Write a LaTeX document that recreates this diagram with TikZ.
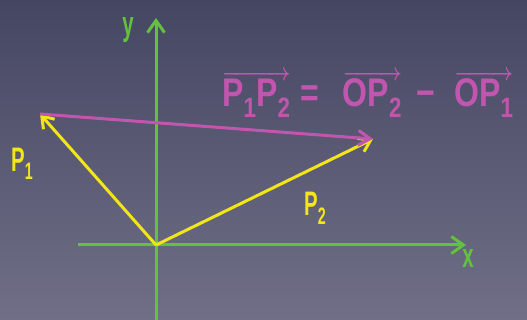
\documentclass[tikz,border=0pt]{standalone}
\usepackage{fontspec}
\setmainfont{Liberation Sans}
\usetikzlibrary{arrows.meta}
\definecolor{bgtop}{HTML}{454662}
\definecolor{bgbot}{HTML}{706F87}
\definecolor{axgreen}{HTML}{62C23E}
\definecolor{vyellow}{HTML}{F2E619}
\definecolor{vmag}{HTML}{C255AE}
\tikzset{
  axis/.style={draw=axgreen, line width=3pt, -{Straight Barb[length=12pt,width=17pt,line width=3pt]}},
  vec/.style={draw=vyellow, line width=3pt, -{Straight Barb[length=11pt,width=15pt,line width=3pt]}},
  mvec/.style={draw=vmag, line width=3pt, -{Straight Barb[length=12pt,width=15pt,line width=3pt]}},
  lab/.style={inner sep=0pt, font=\fontsize{34}{36}\selectfont\bfseries},
}
\newcommand{\narrow}[1]{\scalebox{0.6}[1]{#1}}
\newcommand{\vecof}[1]{$\overrightarrow{\mbox{\bfseries #1}}$}
\begin{document}
\begin{tikzpicture}[x=1pt,y=-1pt]
\shade[top color=bgtop, bottom color=bgbot] (0,0) rectangle (527,320);
\useasboundingbox (0,0) rectangle (527,320);
\coordinate (O) at (156,245);
\coordinate (xs) at (78,245);
\coordinate (xe) at (466,245);
\coordinate (ys) at (156,320);
\coordinate (ye) at (156,18);
\coordinate (P1) at (40,114);
\coordinate (P2) at (373,139);
\draw[axis] (xs) -- (xe);
\draw[axis] (ys) -- (ye);
\draw[vec] (O) -- (P1);
\draw[vec] (O) -- (P2);
\draw[mvec] (P1) -- (P2);
\node[lab, text=axgreen, anchor=base] (ylab) at (128,36) {\narrow{y}};
\node[lab, text=axgreen, anchor=base] (xlab) at (468,268) {\narrow{x}};
\node[lab, text=vyellow, anchor=base west] (p1lab) at (11,172) {\narrow{P\textsubscript{1}}};
\node[lab, text=vyellow, anchor=base west] (p2lab) at (304,216) {\narrow{P\textsubscript{2}}};
\node[anchor=base west, text=vmag, inner sep=0pt, font=\fontsize{40}{42}\selectfont\bfseries\boldmath] (eq) at (222,107)
  {\scalebox{0.8}[1]{\vecof{P\textsubscript{1}P\textsubscript{2}}\hspace{12pt}=\hspace{30pt}\vecof{OP\textsubscript{2}}\hspace{18pt}−\hspace{24pt}\vecof{OP\textsubscript{1}}}};
\end{tikzpicture}
\end{document}
